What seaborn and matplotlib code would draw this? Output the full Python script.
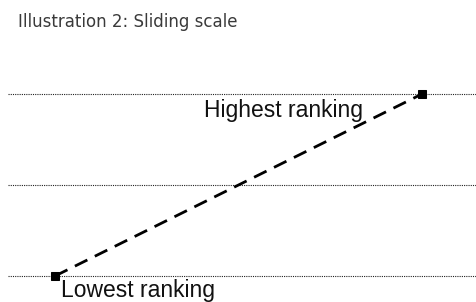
import matplotlib
matplotlib.use("Agg")
import matplotlib.pyplot as plt
import seaborn as sns
import pandas as pd

title = "Illustration 2: Sliding scale"
scale_levels = [0, 1, 2]
position = [0, 1]
ranking = [0, 2]
labels = ["Lowest ranking", "Highest ranking"]

sns.set_theme(style="white")
plt.rcParams['font.family'] = ['DejaVu Sans']

fig = plt.figure(figsize=(4.76, 3.02), dpi=100)
ax = fig.add_axes([0, 0, 1, 1])

XPX = 367.0  # pixels per x unit
YPX = 91.0   # pixels per y unit

def px_x(p):
    return (p - 55) / XPX

def px_y(p):
    return (276 - p) / YPX

for lv in scale_levels:
    ax.axhline(lv, xmin=8/476, xmax=1, color="#222222", lw=0.8, ls=(0, (1, 1)), zorder=1)

df = pd.DataFrame({"x": position, "y": ranking})
sns.lineplot(data=df, x="x", y="y", ax=ax, color="black", lw=2,
             dashes=False, linestyle=(0, (5, 3)), marker="s", markersize=6,
             markeredgecolor="black", zorder=3)

ax.set_xlim(px_x(0), px_x(476))
ax.set_ylim(px_y(302), px_y(0))

ax.text(px_x(61), px_y(297), labels[0], fontsize=16.5, family="Liberation Sans",
        ha="left", va="baseline", color="#111111")
ax.text(px_x(204), px_y(117), labels[1], fontsize=16.5, family="Liberation Sans",
        ha="left", va="baseline", color="#111111")

ax.text(px_x(18), px_y(27), title, fontsize=12, color="#3a3a3a",
        ha="left", va="baseline")

ax.set_axis_off()
ax.set_xlabel("")
ax.set_ylabel("")
fig.savefig("out.png", dpi=100)
